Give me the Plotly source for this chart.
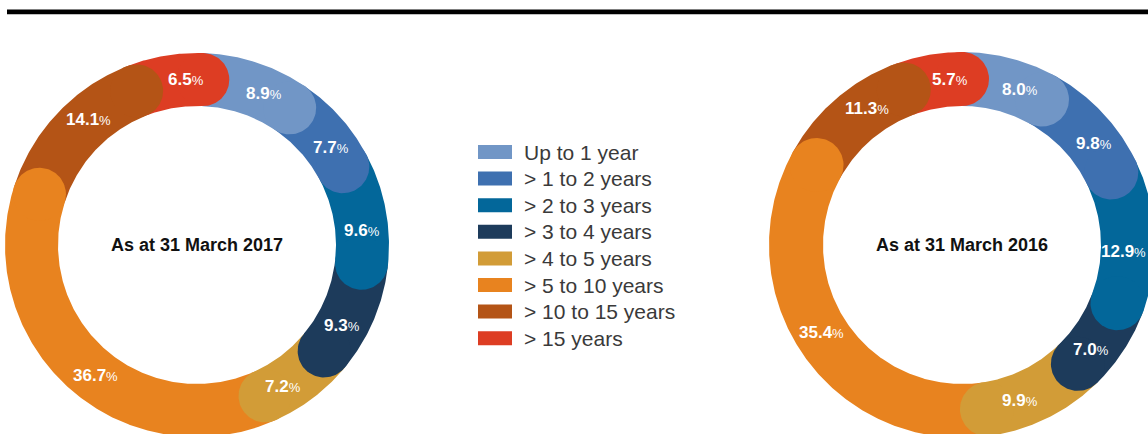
import numpy as np
import plotly.graph_objects as go

# Maturity profile shares (%) for the two reporting dates
categories = ["Up to 1 year", "> 1 to 2 years", "> 2 to 3 years", "> 3 to 4 years",
              "> 4 to 5 years", "> 5 to 10 years", "> 10 to 15 years", "> 15 years"]
share_2017 = [8.9, 7.7, 9.6, 9.3, 7.2, 36.7, 14.1, 6.5]
share_2016 = [8.0, 9.8, 12.9, 7.0, 9.9, 35.4, 11.3, 5.7]
titles = ["As at 31 March 2017", "As at 31 March 2016"]

colors = ["#7196C6", "#3E70B0", "#03679A", "#1D3B5B",
          "#D29C37", "#E8831F", "#B45416", "#DD3D23"]

W, H = 1148, 434

# ring layout: centre, outer/inner radius, rotation (deg clockwise from north)
rings = [
    dict(values=share_2017, title=titles[0], cx=197, cy=245, ro=192, ri=139, rot=2,
         nudge={5: -10}, rlab={}),
    dict(values=share_2016, title=titles[1], cx=962, cy=245, ro=193, ri=139, rot=0,
         nudge={5: -3, 2: -1}, rlab={2: -4}),
]
LABEL_SHIFT = 6  # labels sit slightly past each segment's mid-angle


def pt(cx, cy, r, a_deg):
    a = np.radians(a_deg)
    return cx + r * np.sin(a), cy - r * np.cos(a)


def arc_band(cx, cy, ro, ri, a0, a1):
    n = max(int(abs(a1 - a0) * 2), 8)
    ang = np.linspace(a0, a1, n)
    xo, yo = pt(cx, cy, ro, ang)
    xi, yi = pt(cx, cy, ri, ang[::-1])
    xs = np.concatenate([xo, xi, xo[:1]])
    ys = np.concatenate([yo, yi, yo[:1]])
    return xs, ys


def disc(x0, y0, r):
    t = np.linspace(0, 2 * np.pi, 90)
    return x0 + r * np.cos(t), y0 + r * np.sin(t)


fig = go.Figure()
annotations = []

for ring in rings:
    vals = np.array(ring["values"], dtype=float)
    frac = vals / vals.sum()
    ends = np.cumsum(frac) * 360 + ring["rot"]
    starts = ends - frac * 360
    cx, cy, ro, ri = ring["cx"], ring["cy"], ring["ro"], ring["ri"]
    rm, rc = (ro + ri) / 2, (ro - ri) / 2

    # segment bodies
    for i, (a0, a1) in enumerate(zip(starts, ends)):
        xs, ys = arc_band(cx, cy, ro, ri, a0, a1)
        fig.add_trace(go.Scatter(x=xs, y=ys, mode="lines", fill="toself",
                                 fillcolor=colors[i], line=dict(width=0, color=colors[i]),
                                 hoverinfo="skip", showlegend=False))
    # rounded leading caps, overlapping the next segment
    for i, a1 in enumerate(ends):
        x0, y0 = pt(cx, cy, rm, a1)
        xs, ys = disc(x0, y0, rc)
        fig.add_trace(go.Scatter(x=xs, y=ys, mode="lines", fill="toself",
                                 fillcolor=colors[i], line=dict(width=0, color=colors[i]),
                                 hoverinfo="skip", showlegend=False))
    # value labels
    for i, v in enumerate(vals):
        mid = (starts[i] + ends[i]) / 2 + LABEL_SHIFT + ring["nudge"].get(i, 0)
        lx, ly = pt(cx, cy, rm + ring["rlab"].get(i, 0), mid)
        annotations.append(dict(
            x=lx, y=ly, xref="x", yref="y", showarrow=False,
            text=f"<b>{v:.1f}</b><span style='font-size:13px'>%</span>",
            font=dict(family="Liberation Sans, Arial, sans-serif", size=17, color="white"),
            xanchor="center", yanchor="middle"))
    # centre caption
    annotations.append(dict(
        x=cx, y=cy, xref="x", yref="y", showarrow=False,
        text=f"<b>{ring['title']}</b>",
        font=dict(family="Liberation Sans, Arial, sans-serif", size=18, color="#111111"),
        xanchor="center", yanchor="middle"))

# legend drawn as swatches + labels
shapes = []
leg_x0, leg_x1, leg_y0, leg_dy, sw_h = 478, 512, 152, 26.6, 14
for i, name in enumerate(categories):
    yc = leg_y0 + i * leg_dy
    shapes.append(dict(type="rect", xref="x", yref="y", x0=leg_x0, x1=leg_x1,
                       y0=yc - sw_h / 2, y1=yc + sw_h / 2,
                       fillcolor=colors[i], line=dict(width=0), layer="above"))
    annotations.append(dict(
        x=leg_x1 + 10, y=yc, xref="x", yref="y", showarrow=False, text=name,
        font=dict(family="Liberation Sans, Arial, sans-serif", size=21, color="#3a3a3a"),
        xanchor="left", yanchor="middle"))

# heading rule
shapes.append(dict(type="rect", xref="x", yref="y", x0=7, x1=W, y0=9.5, y1=14.2,
                   fillcolor="#000000", line=dict(width=0), layer="above"))

fig.update_layout(
    width=W, height=H,
    margin=dict(l=0, r=0, t=0, b=0),
    paper_bgcolor="white", plot_bgcolor="white",
    xaxis=dict(range=[0, W], visible=False, fixedrange=True),
    yaxis=dict(range=[H, 0], visible=False, fixedrange=True),
    shapes=shapes, annotations=annotations, showlegend=False,
)

fig.write_html("out.html")
